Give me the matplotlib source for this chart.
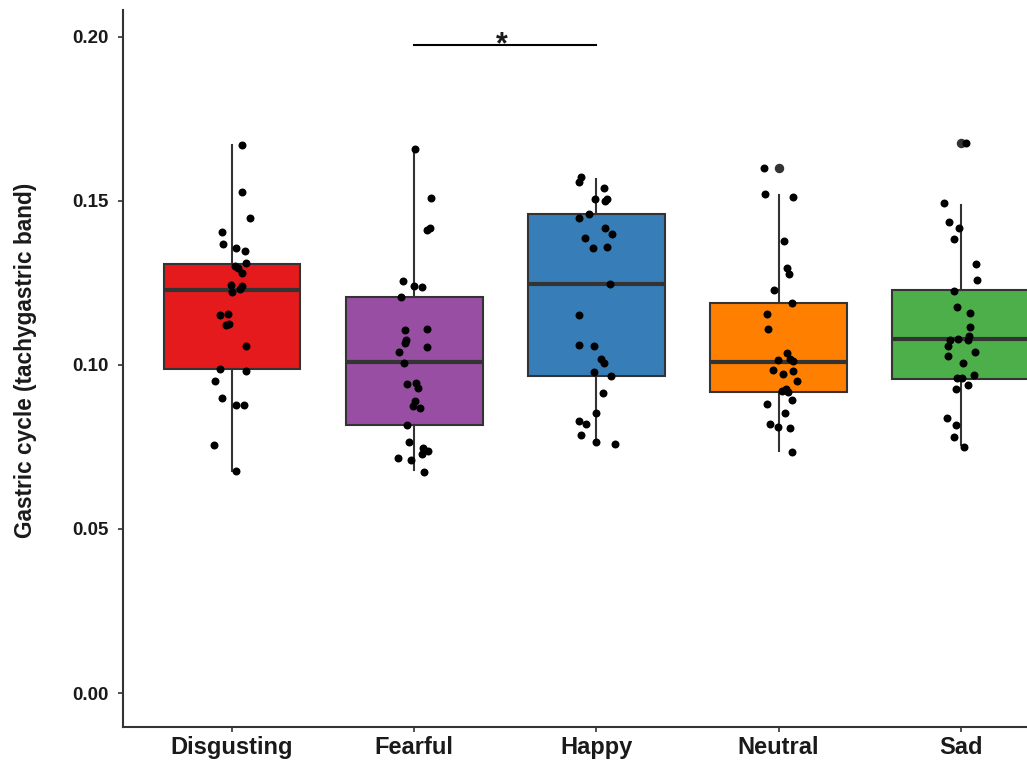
import matplotlib
matplotlib.use("Agg")
from matplotlib import pyplot as plt

# emotions shown on the x axis
emotions = ['Disgusting', 'Fearful', 'Happy', 'Neutral', 'Sad']
box_colours = ['#E41A1C', '#984EA3', '#377EB8', '#FF7F00', '#4DAF4A']

# box statistics
medians = [0.1229, 0.1008, 0.1247, 0.1008, 0.1078]
q1 = [0.0989, 0.0817, 0.0967, 0.0918, 0.0958]
q3 = [0.1308, 0.1208, 0.1459, 0.1188, 0.1228]
whisker_lo = [0.0678, 0.0680, 0.0766, 0.0738, 0.0755]
whisker_hi = [0.1671, 0.1659, 0.1567, 0.1518, 0.1487]
outliers = [[], [], [], [0.1600], [0.1677]]

# individual subjects (value, jitter)
disgusting = [0.1671, 0.1528, 0.1447, 0.1406, 0.1370, 0.1356, 0.1348, 0.1310, 0.1302, 0.1297,
              0.1281, 0.1244, 0.1241, 0.1231, 0.1223, 0.1156, 0.1152, 0.1126, 0.1121, 0.1058,
              0.0987, 0.0983, 0.0952, 0.0900, 0.0878, 0.0878, 0.0756, 0.0678]
disgusting_jit = [0.055, 0.057, 0.097, -0.053, -0.049, 0.024, 0.070, 0.074, 0.015, 0.033,
                  0.052, -0.003, 0.052, 0.042, 0.002, -0.022, -0.064, -0.018, -0.035, 0.074,
                  -0.068, 0.079, -0.095, -0.055, 0.019, 0.066, -0.099, 0.024]

fearful = [0.1659, 0.1509, 0.1418, 0.1412, 0.1257, 0.1242, 0.1239, 0.1206, 0.1111, 0.1107,
           0.1076, 0.1066, 0.1056, 0.1041, 0.1005, 0.0944, 0.0941, 0.0931, 0.0891, 0.0876,
           0.0870, 0.0817, 0.0766, 0.0748, 0.0739, 0.0729, 0.0717, 0.0709, 0.0675]
fearful_jit = [0.002, 0.092, 0.086, 0.068, -0.060, -0.002, 0.041, -0.075, 0.068, -0.051,
               -0.046, -0.049, 0.068, -0.082, -0.057, 0.008, -0.038, 0.019, 0.004, -0.005,
               0.033, -0.038, -0.031, 0.049, 0.075, 0.042, -0.089, -0.020, 0.052]

happy = [0.1574, 0.1559, 0.1539, 0.1507, 0.1505, 0.1499, 0.1459, 0.1448, 0.1417, 0.1400,
         0.1386, 0.1361, 0.1356, 0.1247, 0.1152, 0.1061, 0.1059, 0.1017, 0.1005, 0.0980,
         0.0967, 0.0916, 0.0855, 0.0830, 0.0820, 0.0786, 0.0766, 0.0760]
happy_jit = [-0.087, -0.094, 0.043, -0.010, 0.056, 0.048, -0.040, -0.094, 0.047, 0.085,
             -0.061, 0.056, -0.018, 0.076, -0.094, -0.094, -0.012, 0.023, 0.040, -0.014,
             0.081, 0.036, -0.001, -0.094, -0.058, -0.087, -0.001, 0.100]

neutral = [0.1600, 0.1521, 0.1512, 0.1378, 0.1297, 0.1278, 0.1229, 0.1188, 0.1155, 0.1111,
           0.1036, 0.1019, 0.1014, 0.1012, 0.0985, 0.0982, 0.0972, 0.0951, 0.0928, 0.0921,
           0.0919, 0.0892, 0.0880, 0.0855, 0.0819, 0.0811, 0.0807, 0.0736]
neutral_jit = [-0.081, -0.074, 0.077, 0.029, 0.047, 0.058, -0.027, 0.071, -0.064, -0.060,
               0.044, 0.062, -0.004, 0.080, -0.030, 0.078, 0.025, 0.099, 0.040, 0.018,
               0.053, 0.071, -0.063, 0.035, -0.048, -0.005, 0.062, 0.071]

sad = [0.1676, 0.1493, 0.1436, 0.1419, 0.1384, 0.1307, 0.1259, 0.1225, 0.1177, 0.1159,
       0.1116, 0.1088, 0.1076, 0.1079, 0.1076, 0.1059, 0.1039, 0.1028, 0.1007, 0.0970,
       0.0961, 0.0959, 0.0939, 0.0927, 0.0838, 0.0816, 0.0780, 0.0751]
sad_jit = [0.027, -0.093, -0.064, -0.009, -0.038, 0.086, 0.089, -0.038, -0.020, 0.053,
           0.048, 0.046, 0.042, -0.013, -0.060, -0.068, 0.077, -0.071, 0.013, 0.075,
           -0.020, 0.004, 0.037, -0.026, -0.075, -0.024, -0.035, 0.018]

points = [disgusting, fearful, happy, neutral, sad]
jitters = [disgusting_jit, fearful_jit, happy_jit, neutral_jit, sad_jit]

# significance bracket between Fearful and Happy
sig_pair = (2, 3)
sig_height = 0.1976
sig_label = '*'

plt.rcParams['font.family'] = ['Liberation Sans', 'DejaVu Sans']

fig = plt.figure(figsize=(10.27, 7.60), dpi=100)
ax = fig.add_axes([0.1195, 0.0430, 0.9225, 0.9438])

positions = list(range(1, len(emotions) + 1))
stats = []
for i in range(len(emotions)):
    stats.append({'med': medians[i], 'q1': q1[i], 'q3': q3[i],
                  'whislo': whisker_lo[i], 'whishi': whisker_hi[i],
                  'fliers': outliers[i], 'label': emotions[i]})

bp = ax.bxp(stats, positions=positions, widths=0.75, patch_artist=True, showcaps=False,
            boxprops=dict(edgecolor='#333333', linewidth=1.5),
            whiskerprops=dict(color='#333333', linewidth=1.5),
            medianprops=dict(color='#333333', linewidth=3),
            flierprops=dict(marker='o', markerfacecolor='#333333', markeredgecolor='#333333',
                            markersize=5.8))
for patch, col in zip(bp['boxes'], box_colours):
    patch.set_facecolor(col)

for pos, vals, jit in zip(positions, points, jitters):
    xs = [pos + j for j in jit]
    ax.scatter(xs, vals, s=33, color='black', zorder=4, linewidths=0)

ax.plot(sig_pair, [sig_height, sig_height], color='black', linewidth=1.5)
ax.text(sum(sig_pair) / 2 - 0.018, sig_height - 0.0025, sig_label, ha='center', va='baseline',
        fontsize=22, fontweight='bold', color='#1a1a1a')

ax.set_xlim(0.4, 5.6)
ax.set_ylim(-0.01046, 0.2082)
ax.set_xticks(positions)
ax.set_xticklabels(emotions, fontsize=17, fontweight='bold', color='#1a1a1a')
ax.set_yticks([0.00, 0.05, 0.10, 0.15, 0.20])
ax.set_yticklabels(['0.00', '0.05', '0.10', '0.15', '0.20'], fontsize=13.5,
                   fontweight='bold', color='#1a1a1a')
ax.tick_params(axis='both', length=3.5, width=1.2, color='#333333')
ax.tick_params(axis='x', pad=3)
ax.tick_params(axis='y', pad=7)
ax.set_ylabel('Gastric cycle (tachygastric band)', fontsize=16.25, fontweight='bold',
              color='#1a1a1a')
ax.yaxis.set_label_coords(-0.0905, 0.511)

for side in ['top', 'right']:
    ax.spines[side].set_visible(False)
for side in ['left', 'bottom']:
    ax.spines[side].set_color('#333333')
    ax.spines[side].set_linewidth(1.5)

fig.savefig('out.png', dpi=100)
